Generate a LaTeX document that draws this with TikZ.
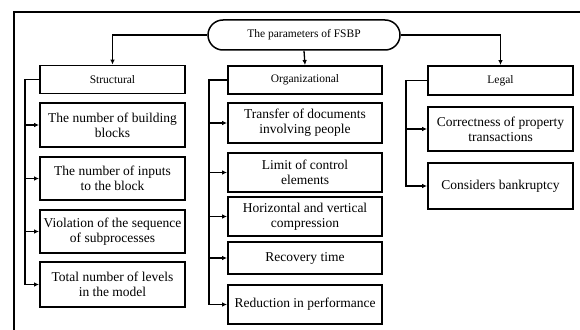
\documentclass[tikz,border=0pt]{standalone}
\usepackage{fontspec}
\setmainfont{Liberation Serif}
\usepackage{tikz}
\usetikzlibrary{shapes, arrows.meta, positioning}

\begin{document}
\begin{tikzpicture}
  [
    x=1pt, y=-1pt,
    Root/.style={draw=black, line width=1.5pt, rounded corners=15pt, minimum width=192pt, minimum height=30pt, font=\rmfamily\fontsize{11.5}{12}\selectfont},
    Head/.style={draw=black, line width=1.8pt, minimum height=28pt, inner sep=1pt, font=\rmfamily\fontsize{11.5}{12}\selectfont},
    Item/.style={draw=black, line width=1.8pt, align=center, inner sep=1pt, font=\rmfamily\fontsize{13.5}{15}\selectfont},
    Link/.style={line width=1.3pt, -{Latex[length=5pt,width=4.5pt]}}
  ]
  \useasboundingbox (0,0) rectangle (580,329);
  \clip (0,0) rectangle (580,329);
  \fill[white] (0,0) rectangle (580,329);
  % Frame
  \draw[line width=1.4pt] (14,340) -- (14,12) -- (590,12);

  % Nodes
  \node[Root] (root) at (304,35) {The parameters of FSBP};

  \node[Head, minimum width=145pt] (struct) at (112.5,79.5) {Structural};
  \node[Head, minimum width=154pt] (org) at (305,80) {Organizational};
  \node[Head, minimum width=145pt, minimum height=29pt] (legal) at (500.5,80.5) {Legal};

  \node[Item, minimum width=145pt, minimum height=44pt] (s1) at (112.5,125) {The number of building\\blocks};
  \node[Item, minimum width=145pt, minimum height=43pt] (s2) at (112.5,178.5) {The number of inputs\\to the block};
  \node[Item, minimum width=145pt, minimum height=43pt] (s3) at (112.5,231.5) {Violation of the sequence\\of subprocesses};
  \node[Item, minimum width=145pt, minimum height=45pt] (s4) at (112.5,284.5) {Total number of levels\\in the model};

  \node[Item, minimum width=154pt, minimum height=40pt] (o1) at (305,123) {Transfer of documents\\involving people};
  \node[Item, minimum width=154pt, minimum height=39pt] (o2) at (305,172.5) {Limit of control\\elements};
  \node[Item, minimum width=154pt, minimum height=39pt] (o3) at (305,216.5) {Horizontal and vertical\\compression};
  \node[Item, minimum width=154pt, minimum height=32pt] (o4) at (305,258) {Recovery time};
  \node[Item, minimum width=154pt, minimum height=39pt] (o5) at (305,304.5) {Reduction in performance};

  \node[Item, minimum width=145pt, minimum height=44pt] (l1) at (500.5,129) {Correctness of property\\transactions};
  \node[Item, minimum width=145pt, minimum height=46pt] (l2) at (500.5,186) {Considers bankruptcy};

  % Connectors
  \draw[Link] (root.west) -| (struct.north);
  \draw[Link] (root.south) -- (org.north);
  \draw[Link] (root.east) -| (legal.north);

  \foreach \c in {s1,s2,s3,s4}
    \draw[Link] (struct.west) -- ++(-14,0) |- (\c.west);
  \foreach \c in {o1,o2,o3,o4,o5}
    \draw[Link] (org.west) -- ++(-18,0) |- (\c.west);
  \foreach \c in {l1,l2}
    \draw[Link] (legal.west) -- ++(-21,0) |- (\c.west);
\end{tikzpicture}
\end{document}
